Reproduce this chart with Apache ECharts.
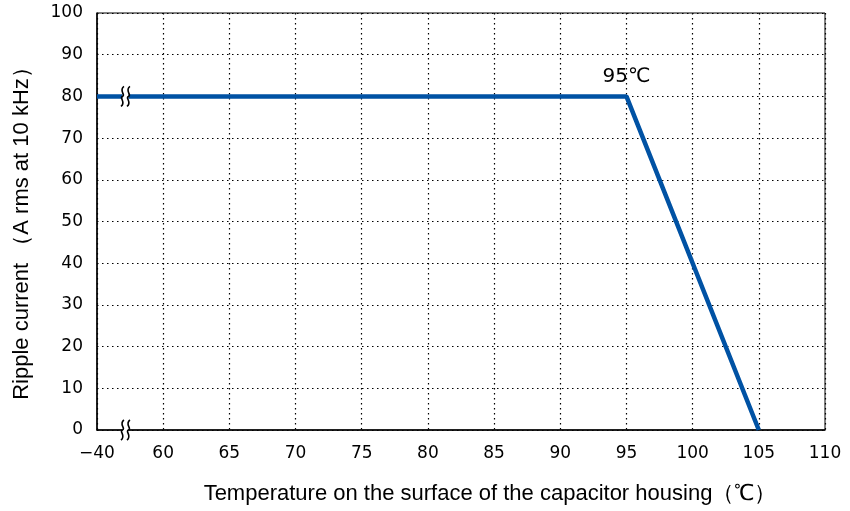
<!DOCTYPE html>
<html>
<head>
<meta charset="utf-8">
<script src="https://cdn.jsdelivr.net/npm/echarts@6/dist/echarts.min.js"></script>
<style>html,body{margin:0;padding:0;background:#fff;}#c{width:850px;height:511px;}</style>
</head>
<body>
<div id="c"></div>
<script>
// Data
const temps = [55, 95, 105];        // 55 stands for the broken-axis start (−40 ℃)
const ripple = [80, 80, 0];
const breakX = [57.15, 57.15];
const breakY = [80, 0];
const xTickLabels = {55: '\u221240'};
const kneeLabel = '95℃';

const chart = echarts.init(document.getElementById('c'));
const lineData = temps.map((t, i) => {
  const item = {value: [t, ripple[i]]};
  if (i === 1) item.label = {show: true, formatter: kneeLabel, position: 'top', distance: 10,
    fontFamily: 'DejaVu Sans', fontSize: 20, color: '#000'};
  return item;
});

function squiggle(x, y) {
  return 'M' + (x + 1.5) + ' ' + (y - 10) +
    ' C' + (x - 4) + ' ' + (y - 6) + ',' + (x + 3.5) + ' ' + (y - 1.5) + ',' + x + ' ' + y +
    ' C' + (x - 3.5) + ' ' + (y + 1.5) + ',' + (x + 4) + ' ' + (y + 6) + ',' + (x - 1.5) + ' ' + (y + 10);
}

chart.setOption({
  animation: false,
  backgroundColor: '#fff',
  grid: {left: 97, right: 25, top: 13, bottom: 81, show: true, borderColor: '#000', borderWidth: 1},
  xAxis: {
    type: 'value', min: 55, max: 110, interval: 5,
    axisLine: {lineStyle: {color: '#000', width: 1.5}},
    axisTick: {show: false},
    axisLabel: {color: '#000', fontFamily: 'DejaVu Sans', fontSize: 17, margin: 15,
      formatter: v => xTickLabels[v] !== undefined ? xTickLabels[v] : String(v)},
    splitLine: {show: true, lineStyle: {color: '#000', type: [1.5, 3.5], width: 1.2}}
  },
  yAxis: {
    type: 'value', min: 0, max: 100, interval: 10,
    axisLine: {show: true, lineStyle: {color: '#000', width: 1.5}},
    axisTick: {show: false},
    axisLabel: {color: '#000', fontFamily: 'DejaVu Sans', fontSize: 17, margin: 14},
    splitLine: {show: true, lineStyle: {color: '#000', type: [1.5, 3.5], width: 1.2}}
  },
  graphic: [
    {type: 'text', x: 490, y: 494, style: {text: 'Temperature on the surface of the capacitor housing（℃）',
      fontFamily: 'Liberation Sans', fontSize: 22, fill: '#000', align: 'center', verticalAlign: 'middle'}},
    {type: 'text', x: 22, y: 228, rotation: Math.PI / 2, style: {text: 'Ripple current （A rms at 10 kHz）',
      fontFamily: 'Liberation Sans', fontSize: 22, fill: '#000', align: 'center', verticalAlign: 'middle'}}
  ],
  series: [
    {
      type: 'line', data: lineData, symbol: 'circle', symbolSize: 0, showSymbol: true,
      lineStyle: {color: '#0052A4', width: 4.5}, itemStyle: {color: '#0052A4'}, z: 3
    },
    {
      type: 'custom', z: 5,
      data: breakX.map((x, i) => [x, breakY[i]]),
      renderItem: function (params, api) {
        const p = api.coord([api.value(0), api.value(1)]);
        return {type: 'group', children: [
          {type: 'rect', shape: {x: p[0] - 3, y: p[1] - 4, width: 6, height: 8}, style: {fill: '#fff'}},
          {type: 'path', shape: {pathData: squiggle(p[0] - 3, p[1])}, style: {stroke: '#000', fill: null, lineWidth: 1.6}},
          {type: 'path', shape: {pathData: squiggle(p[0] + 3, p[1])}, style: {stroke: '#000', fill: null, lineWidth: 1.6}}
        ]};
      }
    }
  ]
});
</script>
</body>
</html>
